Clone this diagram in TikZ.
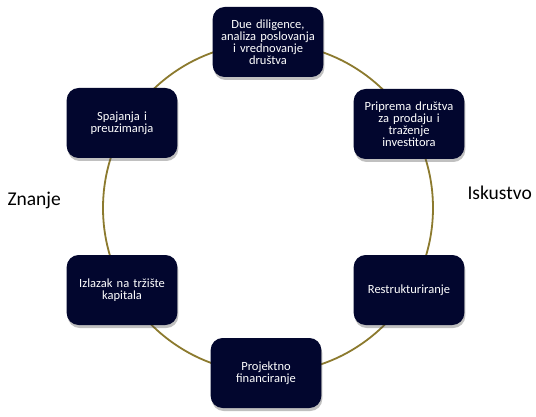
\documentclass[tikz,border=0pt]{standalone}
\usepackage{fontspec}
\setmainfont{Carlito}
\usetikzlibrary{shadows}
\definecolor{boxnavy}{HTML}{02062E}
\definecolor{ringgold}{HTML}{8C7A2E}
\tikzset{
  stagebox/.style={draw=none, fill=boxnavy, rounded corners=12pt,
    minimum width=110pt, minimum height=70pt, text width=104pt, align=center,
    text=white, font=\fontsize{12.5}{12}\selectfont,
    drop shadow={shadow xshift=1pt, shadow yshift=-3pt, opacity=0.35, fill=black!70}},
  sidelabel/.style={font=\fontsize{19.5}{22}\selectfont, text=black}
}
\begin{document}
\begin{tikzpicture}[x=1pt,y=-1pt]
\useasboundingbox (0,0) rectangle (536,417);
\fill[white] (0,0) rectangle (536,417);
\draw[ringgold, line width=1.8pt] (268,208) circle[radius=165];
\node[stagebox] (dd) at (268,42) {Due diligence,\\analiza poslovanja\\i vrednovanje\\društva};
\node[stagebox] (pp) at (409,124) {Priprema društva\\za prodaju i\\traženje\\investitora};
\node[stagebox] (rs) at (409,290) {Restrukturiranje};
\node[stagebox] (pf) at (266,373) {Projektno\\financiranje};
\node[stagebox] (iz) at (122,290) {Izlazak na tržište\\kapitala};
\node[stagebox] (sp) at (122,123) {Spajanja i\\preuzimanja};
\node[sidelabel, anchor=west] (zn) at (4,200) {Znanje};
\node[sidelabel, anchor=west] (is) at (464,193) {Iskustvo};
\end{tikzpicture}
\end{document}
